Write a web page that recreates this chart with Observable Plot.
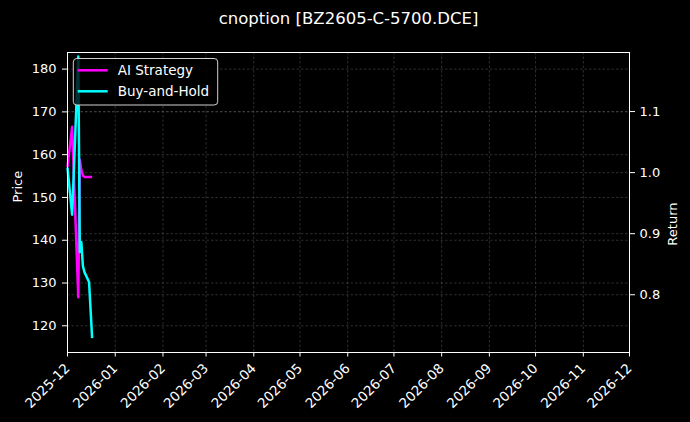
<!DOCTYPE html>
<html><head><meta charset="utf-8">
<script src="https://cdn.jsdelivr.net/npm/d3@7"></script>
<script src="https://cdn.jsdelivr.net/npm/@observablehq/plot@0.6"></script>
<style>
html,body{margin:0;padding:0;background:#000;}
#chart{width:690px;height:422px;}
</style></head><body><div id="chart"></div>
<script>
const title = "cnoption [BZ2605-C-5700.DCE]";
const dates = ["2025-12-01","2025-12-04","2025-12-08","2025-12-09","2025-12-10","2025-12-11","2025-12-12","2025-12-15","2025-12-17"];
const aiStrategy = [1.009, 1.075, 0.796, 1.021, 1.004, 0.995, 0.993, 0.993, 0.993];
const buyHold    = [1.008, 0.931, 1.190, 0.870, 0.886, 0.847, 0.837, 0.821, 0.729];
const monthTicks = ["2025-12-01","2026-01-01","2026-02-01","2026-03-01","2026-04-01","2026-05-01","2026-06-01","2026-07-01","2026-08-01","2026-09-01","2026-10-01","2026-11-01","2026-12-01"];
const priceTicks = [120, 130, 140, 150, 160, 170, 180];
const returnTicks = [0.8, 0.9, 1.0, 1.1];
const priceDomain = [113.76, 183.88];
const returnDomain = [0.7054, 1.1967];
const seriesNames = ["AI Strategy", "Buy-and-Hold"];
const seriesColors = ["#ff00ff", "#00ffff"];

const parse = d3.utcParse("%Y-%m-%d");
const rows = [];
dates.forEach((d, i) => {
  rows.push({date: parse(d), value: aiStrategy[i], series: seriesNames[0]});
  rows.push({date: parse(d), value: buyHold[i], series: seriesNames[1]});
});
const priceToY = d3.scaleLinear().domain(priceDomain).range(returnDomain);
const mTicks = monthTicks.map(parse);
const pTicksY = priceTicks.map(p => priceToY(p));
const gridStyle = {stroke: "#808080", strokeOpacity: 0.5, strokeWidth: 0.7, strokeDasharray: "2.5,2"};

const svg = Plot.plot({
  width: 690, height: 422,
  marginLeft: 67, marginRight: 61, marginTop: 52, marginBottom: 70,
  style: {background: "#000", color: "#fff", fontFamily: "DejaVu Sans", fontSize: "13px", overflow: "visible"},
  x: {type: "utc", domain: [mTicks[0], mTicks[mTicks.length - 1]]},
  y: {domain: returnDomain},
  color: {domain: seriesNames, range: seriesColors},
  marks: [
    Plot.gridX(mTicks, gridStyle),
    Plot.gridY(pTicksY, gridStyle),
    Plot.gridY(returnTicks, gridStyle),
    Plot.line(rows, {x: "date", y: "value", z: "series", stroke: "series", strokeWidth: 2.5, strokeLinejoin: "round", strokeLinecap: "butt"}),
    Plot.frame({stroke: "#fff", strokeWidth: 1}),
    Plot.axisX(mTicks, {tickFormat: d3.utcFormat("%Y-%m"), tickRotate: -45, tickSize: 4.5, tickPadding: 9, label: null, fontSize: 13.5}),
    Plot.axisY(pTicksY, {anchor: "left", tickFormat: v => String(Math.round(priceToY.invert(v))), tickSize: 5, tickPadding: 6, label: null, fontSize: 13}),
    Plot.axisY(returnTicks, {anchor: "right", tickFormat: d3.format(".1f"), tickSize: 5, tickPadding: 5, label: null, fontSize: 13}),
    Plot.text([title], {text: d => d, frameAnchor: "top", dy: -34, fontSize: 16.5, lineAnchor: "middle"}),
    Plot.text(["Price"], {text: d => d, frameAnchor: "left", dx: -50, rotate: -90, lineAnchor: "middle", fontSize: 13}),
    Plot.text(["Return"], {text: d => d, frameAnchor: "right", dx: 43.5, rotate: -90, lineAnchor: "middle", fontSize: 13})
  ]
});
document.getElementById("chart").appendChild(svg);

// legend
const lg = d3.select(svg).append("g").attr("font-family", "DejaVu Sans").attr("font-size", 13.5).attr("text-anchor", "start");
lg.append("rect").attr("x", 73.3).attr("y", 58.5).attr("width", 144.4).attr("height", 46.5)
  .attr("rx", 3.5).attr("fill", "#000").attr("fill-opacity", 0.8).attr("stroke", "#d0d0d0").attr("stroke-width", 1);
seriesNames.forEach((name, i) => {
  const y = 70.3 + i * 21;
  lg.append("line").attr("x1", 77.7).attr("x2", 107.7).attr("y1", y).attr("y2", y)
    .attr("stroke", seriesColors[i]).attr("stroke-width", 2.5);
  lg.append("text").attr("x", 117.7).attr("y", y).attr("dy", "0.35em").attr("fill", "#fff").attr("text-anchor", "start").text(name);
});
</script></body></html>
